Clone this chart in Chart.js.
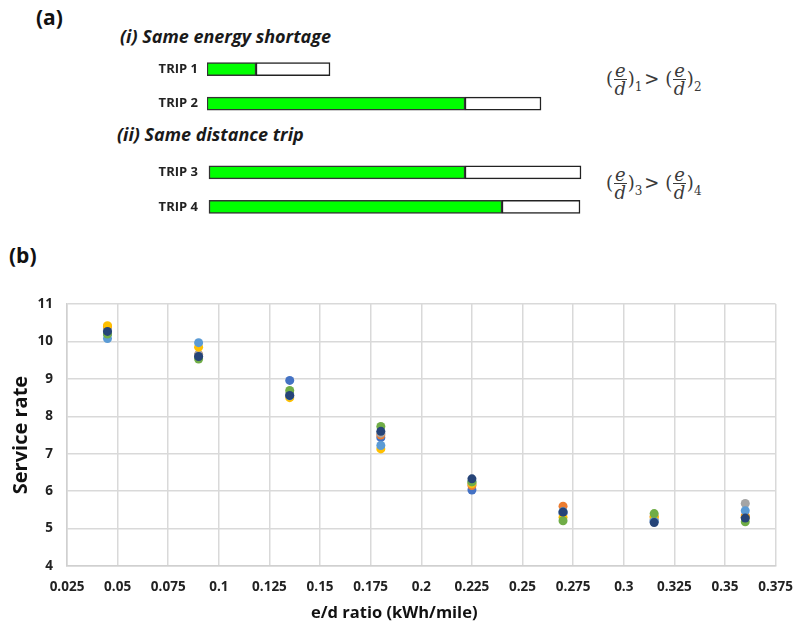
<!DOCTYPE html>
<html>
<head>
<meta charset="utf-8">
<script src="https://cdn.jsdelivr.net/npm/chart.js@4.4.1/dist/chart.umd.min.js"></script>
<style>
    body { margin: 0; background: #fff; }
    #page { position: relative; width: 797px; height: 626px; overflow: hidden; font-family: "Open Sans", "Noto Sans", sans-serif; color: #111; }
    .panel { position: absolute; font-weight: bold; font-size: 21px; }
    .head { position: absolute; font-weight: bold; font-style: italic; font-size: 18px; color: #1a1a1a; }
    .axis-title { position: absolute; font-weight: bold; font-size: 16.5px; color: #111; white-space: nowrap; }
    canvas { position: absolute; }
    .formula { position: absolute; font-family: "DejaVu Serif", "Liberation Serif", serif; font-size: 18px; color: #3a3a3a; white-space: nowrap; }
    .frac { display: inline-block; vertical-align: middle; text-align: center; font-style: italic; line-height: 17px; margin: 0 1px; }
    .frac span { display: block; }
    .frac .num { border-bottom: 1.2px solid #3a3a3a; padding: 0 1px; }
    .formula sub { font-size: 12px; vertical-align: -6px; margin-right: 2px; }
</style>
</head>
<body>
<div id="page">
    <div class="panel" style="left:36px; top:3px;">(a)</div>
    <div class="head" style="left:120px; top:24px;">(i) Same energy shortage</div>
    <div class="head" style="left:117px; top:122px;">(ii) Same distance trip</div>
    <canvas id="tripChart" width="482" height="172" style="left:100px; top:52px;"></canvas>

    <div class="formula" style="left:606px; top:62px;">(<span class="frac"><span class="num">e</span><span>d</span></span>)<sub>1</sub>&gt; (<span class="frac"><span class="num">e</span><span>d</span></span>)<sub>2</sub></div>
    <div class="formula" style="left:606px; top:166px;">(<span class="frac"><span class="num">e</span><span>d</span></span>)<sub>3</sub>&gt; (<span class="frac"><span class="num">e</span><span>d</span></span>)<sub>4</sub></div>

    <div class="panel" style="left:9px; top:241px;">(b)</div>
    <canvas id="rateChart" width="806" height="344" style="left:0px; top:282px;"></canvas>
    <div class="axis-title" style="left:311px; top:600px;">e/d ratio (kWh/mile)</div>
</div>

<script>
// (a) trip diagram: energy used (green) and remaining distance (white)
const tripLabels = ['TRIP 1', 'TRIP 2', '', 'TRIP 3', 'TRIP 4'];
const tripEnergy = [[0, 49], [0, 258], null, [2, 258], [2, 295]];
const tripShortage = [[49, 123], [258, 334], null, [258, 374], [295, 373]];

// (b) service rate vs e/d ratio
const edRatio = [0.045, 0.09, 0.135, 0.18, 0.225, 0.27, 0.315, 0.36];
const run1 = [10.20, 9.60, 8.96, 7.43, 6.03, 5.40, 5.20, 5.30];
const run2 = [10.40, 9.65, 8.55, 7.50, 6.15, 5.60, 5.33, 5.34];
const run3 = [10.30, 9.65, 8.60, 7.55, 6.20, 5.45, 5.25, 5.67];
const run4 = [10.42, 9.85, 8.50, 7.13, 6.20, 5.30, 5.30, 5.30];
const run5 = [10.08, 9.97, 8.55, 7.22, 6.25, 5.45, 5.20, 5.48];
const run6 = [10.20, 9.53, 8.69, 7.73, 6.25, 5.21, 5.40, 5.18];
const run7 = [10.27, 9.60, 8.56, 7.60, 6.33, 5.44, 5.16, 5.28];
const runColors = ['#4472C4', '#ED7D31', '#A5A5A5', '#FFC000', '#5B9BD5', '#70AD47', '#264478'];

const xTickValues = [0.025, 0.05, 0.075, 0.1, 0.125, 0.15, 0.175, 0.2, 0.225, 0.25, 0.275, 0.3, 0.325, 0.35, 0.375];
const xTickLabels = ['0.025', '0.05', '0.075', '0.1', '0.125', '0.15', '0.175', '0.2', '0.225', '0.25', '0.275', '0.3', '0.325', '0.35', '0.375'];
const yTickLabels = ['4', '5', '6', '7', '8', '9', '10', '11'];

Chart.defaults.font.family = '"Open Sans", "Noto Sans", sans-serif';
Chart.defaults.animation = false;

new Chart(document.getElementById('tripChart'), {
    type: 'bar',
    data: {
        labels: tripLabels,
        datasets: [
            {
                data: tripEnergy,
                backgroundColor: '#00FF00',
                borderColor: '#333',
                borderWidth: 1.5,
                borderSkipped: false,
                barThickness: 13,
                grouped: false
            },
            {
                data: tripShortage,
                backgroundColor: '#FFFFFF',
                borderColor: '#222',
                borderWidth: 1.5,
                borderSkipped: false,
                barThickness: 13,
                grouped: false
            }
        ]
    },
    options: {
        indexAxis: 'y',
        responsive: false,
        layout: { padding: 0, autoPadding: false },
        plugins: { legend: { display: false }, tooltip: { enabled: false } },
        scales: {
            x: { display: false, min: 0, max: 375 },
            y: {
                offset: true,
                grid: { display: false, drawTicks: false },
                border: { display: false },
                ticks: { color: '#222', padding: 9, font: { size: 13, weight: 'bold' } },
                afterFit: (scale) => {
                    scale.width = 107;
                    scale.paddingTop = 0;
                    scale.paddingBottom = 0;
                }
            }
        }
    }
});

const runs = [run1, run2, run3, run4, run5, run6, run7];

new Chart(document.getElementById('rateChart'), {
    type: 'scatter',
    data: {
        datasets: runs.map((vals, k) => ({
            label: 'Run ' + (k + 1),
            data: edRatio.map((x, i) => ({ x: x, y: vals[i] })),
            backgroundColor: runColors[k],
            borderWidth: 0,
            pointRadius: 4.5,
            order: runs.length - k
        }))
    },
    options: {
        responsive: false,
        layout: { padding: { top: 5, right: 9, left: 9, bottom: 0 } },
        plugins: { legend: { display: false }, tooltip: { enabled: false } },
        scales: {
            x: {
                type: 'linear',
                min: 0.025,
                max: 0.375,
                afterBuildTicks: (scale) => { scale.ticks = xTickValues.map(v => ({ value: v })); },
                ticks: {
                    color: '#222',
                    padding: 13,
                    maxRotation: 0,
                    autoSkip: false,
                    font: { size: 13.5, weight: 'bold' },
                    callback: (v, i) => xTickLabels[i]
                },
                grid: { color: '#D9D9D9', lineWidth: 1.5, drawTicks: false },
                border: { color: '#D0D0D0', width: 1.5 },
                afterFit: (scale) => { scale.height = 60; }
            },
            y: {
                min: 4,
                max: 11,
                ticks: {
                    stepSize: 1,
                    color: '#222',
                    padding: 14,
                    font: { size: 13.5, weight: 'bold' },
                    callback: (v, i) => yTickLabels[i]
                },
                grid: { color: '#D9D9D9', lineWidth: 1.5, drawTicks: false },
                border: { color: '#D0D0D0', width: 1.5 },
                title: {
                    display: true,
                    text: 'Service rate',
                    color: '#111',
                    font: { size: 20, weight: 'bold' },
                    padding: { top: 0, bottom: 0 }
                },
                afterFit: (scale) => { scale.width = 58; }
            }
        }
    }
});
</script>
</body>
</html>
